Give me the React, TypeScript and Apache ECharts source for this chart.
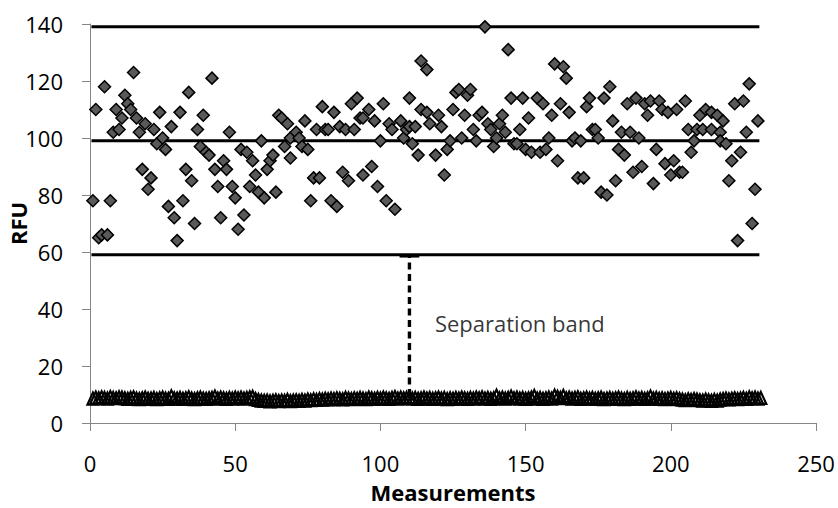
import React, { useEffect, useRef } from 'react';
import * as echarts from 'echarts';

// High-signal measurements (diamonds): [measurement, RFU]
const highSamples: [number, number][] = [
  [1, 78], [2, 110], [3, 65], [4, 66], [5, 118], [6, 66], [7, 78], [8, 102], [9, 110], [10, 103],
  [11, 107], [12, 115], [13, 112], [14, 110], [15, 123], [16, 107], [17, 102], [18, 89], [19, 105], [20, 82],
  [21, 86], [22, 103], [23, 98], [24, 109], [25, 100], [26, 96], [27, 76], [28, 104], [29, 72], [30, 64],
  [31, 109], [32, 78], [33, 89], [34, 116], [35, 85], [36, 70], [37, 103], [38, 97], [39, 108], [40, 95],
  [41, 94], [42, 121], [43, 89], [44, 83], [45, 72], [46, 92], [47, 89], [48, 102], [49, 83], [50, 79],
  [51, 68], [52, 96], [53, 73], [54, 95], [55, 83], [56, 92], [57, 87], [58, 81],
  [59, 99], [60, 79], [61, 89], [62, 92], [63, 94], [64, 81], [65, 108], [66, 107], [67, 97], [68, 105],
  [69, 93], [69, 100], [71, 102], [72, 100], [73, 97], [74, 106], [75, 96], [76, 78], [77, 86], [78, 103],
  [79, 86], [80, 111], [81, 103], [82, 103], [83, 78], [84, 109], [85, 76], [86, 104], [87, 88], [88, 103],
  [89, 85], [90, 112], [91, 103], [92, 114], [93, 107], [94, 107], [94, 87], [96, 110], [97, 90], [98, 106],
  [99, 83], [100, 99], [101, 112], [102, 78], [103, 105], [104, 103], [105, 75], [107, 106], [108, 100], [109, 103],
  [110, 104], [110, 114], [111, 98], [112, 104], [113, 94], [114, 110], [114, 127], [116, 124], [116, 109], [117, 105],
  [119, 94], [120, 108], [121, 104], [122, 87], [123, 96], [124, 99], [125, 110], [126, 116], [127, 117], [128, 100],
  [129, 108], [130, 115], [131, 117], [132, 103], [133, 99], [134, 108], [135, 109], [136, 139], [137, 105], [138, 103],
  [139, 97], [140, 100], [141, 105], [142, 108], [143, 102], [144, 131], [145, 114], [146, 98], [147, 98], [148, 103],
  [149, 114], [150, 96], [151, 107], [152, 95], [154, 114], [155, 95], [156, 112], [157, 96], [158, 100], [159, 108],
  [160, 126], [161, 92], [162, 112], [163, 125], [164, 121], [165, 109], [166, 99], [167, 100], [168, 86], [169, 99],
  [170, 86], [171, 111], [172, 114], [173, 103], [174, 103], [175, 100],
  [176, 81], [177, 114], [178, 80], [179, 118], [180, 106], [181, 85], [182, 96], [183, 102], [184, 94], [185, 112],
  [186, 102], [187, 88], [188, 114], [189, 100], [190, 90], [191, 112], [192, 108], [193, 113], [194, 84], [195, 96],
  [196, 113], [197, 110], [198, 91], [199, 109], [200, 87], [201, 92], [202, 110], [203, 88], [204, 88], [205, 113],
  [206, 103], [207, 95], [208, 99], [209, 103], [210, 108], [211, 103], [212, 110], [214, 109], [214, 103], [216, 108],
  [217, 102], [217, 99], [218, 106], [219, 98], [220, 85], [221, 92], [222, 112], [223, 64], [224, 95], [225, 113],
  [226, 102], [227, 119], [228, 70], [229, 82], [230, 106]
];

// Low-signal measurements (triangles), measurement 1..231
const lowValues: number[] = [
  8.6, 8.9, 8.7, 9.0, 8.8, 8.6, 9.1, 8.8, 8.7, 9.0,
  8.9, 8.7, 8.5, 8.8, 9.0, 8.6, 8.4, 8.7, 8.9, 8.5,
  8.6, 8.8, 8.4, 8.7, 8.9, 8.6, 8.5, 9.4, 8.7, 8.6,
  8.8, 8.5, 8.7, 9.0, 8.6, 8.4, 8.7, 8.9, 8.6, 8.5,
  8.7, 8.8, 9.3, 8.6, 8.9, 8.7, 8.5, 8.8, 8.6, 8.9,
  8.7, 8.9, 8.6, 8.8, 9.0, 9.2, 8.4, 8.1, 7.9, 7.8,
  7.9, 7.6, 7.8, 8.0, 7.7, 7.9, 7.8, 8.1, 7.7, 7.9,
  8.0, 7.8, 8.1, 7.9, 8.2, 8.0, 8.3, 8.1, 8.4, 8.2,
  8.5, 8.3, 8.6, 8.4, 8.7, 8.5, 8.3, 8.8, 8.6, 8.4,
  8.7, 8.5, 8.8, 8.6, 8.4, 8.9, 8.7, 8.5, 8.8, 8.6,
  8.9, 8.7, 8.5, 8.8, 9.1, 8.6, 8.9, 8.7, 8.8, 9.0,
  8.6, 8.8, 8.5, 8.7, 8.9, 8.6, 8.8, 8.5, 8.7, 8.9,
  8.6, 8.8, 8.4, 8.7, 8.5, 8.8, 8.6, 8.9, 8.7, 8.5,
  8.8, 8.6, 8.9, 8.7, 9.0, 8.6, 8.8, 8.5, 8.7, 9.6,
  8.7, 8.9, 8.6, 8.8, 9.3, 8.7, 8.9, 8.6, 8.8, 8.5,
  8.7, 8.9, 9.5, 8.6, 8.8, 8.5, 8.7, 8.9, 8.6, 9.6,
  9.2, 8.8, 9.5, 8.7, 8.9, 8.6, 8.8, 9.0, 8.5, 8.7,
  8.9, 8.6, 8.8, 8.5, 8.7, 8.9, 8.4, 8.6, 8.8, 8.5,
  8.7, 8.9, 8.6, 8.4, 8.8, 8.5, 8.7, 9.0, 8.6, 8.8,
  8.5, 8.7, 9.3, 8.6, 8.8, 8.5, 8.7, 8.4, 8.6, 8.8,
  8.5, 8.7, 8.4, 8.2, 8.0, 8.3, 8.1, 8.4, 8.2, 8.0,
  7.9, 8.2, 8.0, 7.8, 8.1, 7.9, 8.2, 8.4, 8.6, 8.3,
  8.5, 8.7, 8.4, 8.6, 8.8, 8.5, 9.0, 8.7, 8.9, 8.6, 8.8
];

// Reference lines (RFU levels) spanning the measurements
const bandLevels: number[] = [139, 99, 59];
const bandStartX = 0.5;
const bandEndX = 230.5;

// Separation band annotation
const separationX = 110;
const separationFrom = 9.5;
const separationTo = 58.4;
const capHalfWidth = 3.4;
const separationLabelPos: [number, number] = [118.6, 35];
const separationLabel = 'Separation band';

// Axis settings
const xMax = 250;
const xInterval = 50;
const yMax = 140;
const yInterval = 20;

export default function App() {
  const ref = useRef<HTMLDivElement>(null);

  useEffect(() => {
    if (!ref.current) return;
    const chart = echarts.init(ref.current, null, { renderer: 'svg' });
    const font = '"Open Sans", "Noto Sans", sans-serif';
    const axisColor = '#868686';

    const lowData = lowValues.map((v, i) => [i + 1, v]);

    const bandSeries = bandLevels.map((level) => ({
      type: 'line',
      data: [
        [bandStartX, level],
        [bandEndX, level],
      ],
      symbol: 'none',
      silent: true,
      lineStyle: { color: '#000', width: 3 },
      z: 1,
    }));

    chart.setOption({
      animation: false,
      textStyle: { fontFamily: font },
      grid: {
        left: 90,
        right: 22,
        top: 24,
        bottom: 85,
        containLabel: false,
        outerBoundsMode: 'none',
      },
      xAxis: {
        type: 'value',
        min: 0,
        max: xMax,
        interval: xInterval,
        name: 'Measurements',
        nameLocation: 'middle',
        nameGap: 58,
        nameMoveOverlap: false,
        nameTextStyle: { fontSize: 22, fontWeight: 'bold', color: '#000', fontFamily: font },
        axisLine: { show: true, onZero: false, lineStyle: { color: axisColor, width: 1 } },
        axisTick: { show: true, inside: false, length: 8, lineStyle: { color: axisColor, width: 1 } },
        axisLabel: { fontSize: 22, color: '#000', margin: 29, fontFamily: font },
        splitLine: { show: false },
      },
      yAxis: {
        type: 'value',
        min: 0,
        max: yMax,
        interval: yInterval,
        name: 'RFU',
        nameLocation: 'middle',
        nameGap: 61,
        nameRotate: 90,
        nameMoveOverlap: false,
        nameTextStyle: { fontSize: 22, fontWeight: 'bold', color: '#000', fontFamily: font },
        axisLine: { show: true, lineStyle: { color: axisColor, width: 1 } },
        axisTick: { show: true, inside: false, length: 8, lineStyle: { color: axisColor, width: 1 } },
        axisLabel: { fontSize: 22, color: '#000', margin: 27, fontFamily: font },
        splitLine: { show: false },
      },
      series: [
        ...bandSeries,
        {
          type: 'scatter',
          data: lowData,
          symbol: 'triangle',
          symbolSize: [11, 12],
          silent: true,
          itemStyle: { color: 'rgba(255,255,255,0)', borderColor: '#000', borderWidth: 2.2, opacity: 1 },
          z: 2,
        },
        {
          type: 'scatter',
          data: highSamples,
          symbol: 'diamond',
          symbolSize: 12,
          silent: true,
          itemStyle: { color: '#595959', borderColor: '#000', borderWidth: 1.5, opacity: 1 },
          z: 3,
        },
        {
          type: 'line',
          data: [
            [separationX, separationFrom],
            [separationX, separationTo],
          ],
          symbol: 'none',
          silent: true,
          lineStyle: { color: '#000', width: 3.4, type: [7, 4.5] },
          z: 4,
        },
        {
          type: 'line',
          data: [
            [separationX - capHalfWidth, separationTo],
            [separationX + capHalfWidth, separationTo],
          ],
          symbol: 'none',
          silent: true,
          lineStyle: { color: '#000', width: 2 },
          z: 4,
        },
        {
          type: 'scatter',
          data: [separationLabelPos],
          symbolSize: 1,
          silent: true,
          itemStyle: { color: 'rgba(0,0,0,0)' },
          label: {
            show: true,
            position: 'right',
            distance: 0,
            formatter: separationLabel,
            fontSize: 22,
            color: '#000',
            fontFamily: font,
          },
          z: 5,
        },
      ],
    });

    return () => chart.dispose();
  }, []);

  return (
    <div
      ref={ref}
      style={{ position: 'absolute', left: 0, top: 0, width: 838, height: 508, background: '#fff' }}
    />
  );
}
